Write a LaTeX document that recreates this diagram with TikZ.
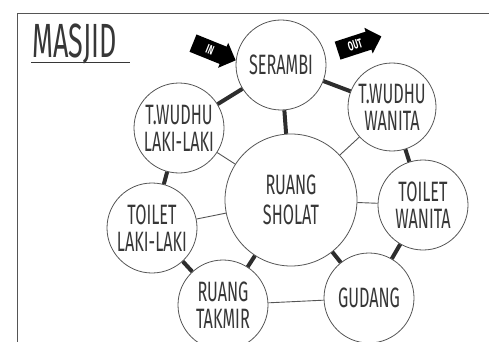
\documentclass[tikz,border=0pt]{standalone}
\usepackage{fontspec}
\setmainfont{Fira Sans}[FakeStretch=0.58]
\newfontfamily\titlefont{Fira Sans}[FakeStretch=0.56]
\usepackage{tikz}
\usetikzlibrary{arrows.meta, positioning, calc, shapes.arrows}
\usepackage{xcolor}
\definecolor{ink}{RGB}{55,55,55}
\definecolor{rim}{RGB}{85,85,85}
\definecolor{bond}{RGB}{45,45,45}

\tikzset{
  room/.style={circle, draw=rim, line width=0.8pt, fill=white, text=ink,
    minimum size=90pt, inner sep=0pt, align=center,
    font=\fontsize{28}{27}\selectfont},
  strong/.style={bond, line width=4pt},
  weak/.style={rim, line width=0.9pt},
  flow/.style={single arrow, fill=black, text=white, minimum height=46pt,
    minimum width=27pt, single arrow head extend=3pt, inner sep=2pt,
    font=\bfseries\fontsize{13}{13}\selectfont}
}

\begin{document}
\begin{tikzpicture}[x=1pt, y=-1pt]
  \useasboundingbox (0,0) rectangle (489,342);
  % frame
  \draw[rim, line width=0.9pt] (17,342) -- (17,13) -- (489,13);
  \node[anchor=base west, text=ink, inner sep=0pt,
    font=\titlefont\fontsize{48}{48}\selectfont] (title) at (32,58) {MASJID};
  \draw[ink, line width=0.9pt] (31,62) -- (130,62);

  % rooms
  \node[room] (serambi) at (281,65) {SERAMBI};
  \node[room] (twl) at (179,128) {T.WUDHU\\LAKI-LAKI};
  \node[room, minimum size=88pt] (tww) at (392,107) {T.WUDHU\\WANITA};
  \node[room, minimum size=132pt, font=\fontsize{28}{30}\selectfont] (sholat) at (291,200) {RUANG\\SHOLAT};
  \node[room] (tw) at (423,205) {TOILET\\WANITA};
  \node[room] (tll) at (152,228) {TOILET\\LAKI-LAKI};
  \node[room] (takmir) at (223,305) {RUANG\\TAKMIR};
  \node[room] (gudang) at (369,298) {GUDANG};

  % in / out
  \node[flow, rotate=-22] (in) at (210,50) {IN};
  \node[flow, rotate=18] (out) at (355,45) {OUT};

  % links
  \draw[strong] (serambi) -- (twl);
  \draw[strong] (serambi) -- (tww);
  \draw[strong] (serambi) -- (sholat);
  \draw[strong] (twl) -- (tll);
  \draw[strong] (tww) -- (tw);
  \draw[strong] (tw) -- (gudang);
  \draw[strong] (sholat) -- (gudang);
  \draw[strong] (sholat) -- (takmir);
  \draw[strong] (tll) -- (takmir);
  \draw[weak] (twl) -- (sholat);
  \draw[weak] (tww) -- (sholat);
  \draw[weak] (tll) -- (sholat);
  \draw[weak] (tw) -- (sholat);
  \draw[weak] (takmir) -- (gudang);
\end{tikzpicture}
\end{document}
